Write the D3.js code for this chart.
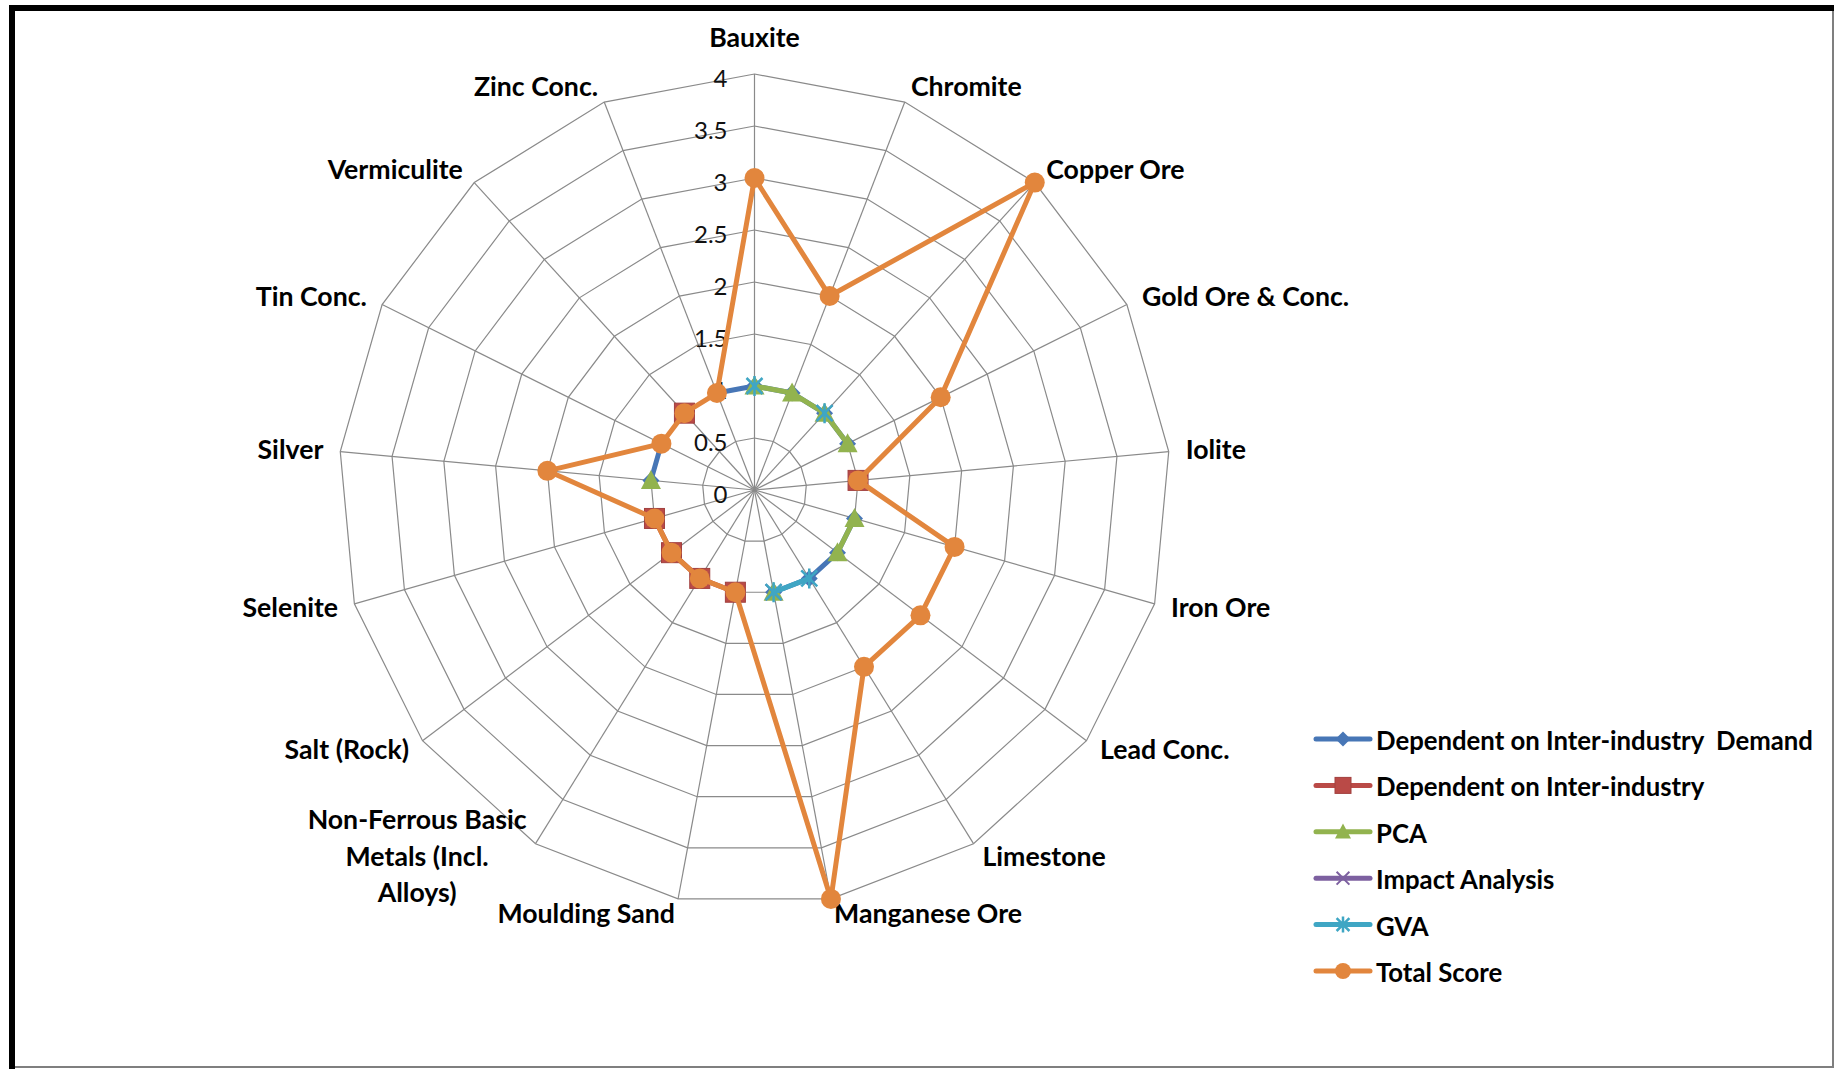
<!DOCTYPE html>
<html>
<head>
<meta charset="utf-8">
<script src="https://cdn.jsdelivr.net/npm/d3@7"></script>
<style>
  html, body { margin: 0; padding: 0; background: #fff; }
  svg { display: block; }
</style>
</head>
<body>
<svg id="chart" width="1836" height="1069"></svg>
<script>
// ---------------- DATA ----------------
const categories = [
  "Bauxite", "Chromite", "Copper Ore", "Gold Ore & Conc.", "Iolite", "Iron Ore",
  "Lead Conc.", "Limestone", "Manganese Ore", "Moulding Sand",
  "Non-Ferrous Basic Metals (Incl. Alloys)", "Salt (Rock)", "Selenite", "Silver",
  "Tin Conc.", "Vermiculite", "Zinc Conc."
];
const seriesNames = [
  "Dependent on Inter-industry  Demand",
  "Dependent on Inter-industry",
  "PCA",
  "Impact Analysis",
  "GVA",
  "Total Score"
];
// null = blank cell (gap in the line)
const demandValues   = [1, 1, 1, 1, null, 1, 1, 1, 1, null, null, null, null, 1, 1, null, 1];
const interValues    = [null, null, null, null, 1, null, null, null, null, 1, 1, 1, 1, null, null, 1, null];
const pcaValues      = [1, 1, 1, 1, null, 1, 1, null, 1, null, null, null, null, 1, null, null, null];
const impactValues   = [null, null, 1, null, null, null, null, null, 1, null, null, null, null, null, null, null, null];
const gvaValues      = [1, null, 1, null, null, null, null, 1, 1, null, null, null, null, null, null, null, null];
const totalValues    = [3, 2, 4, 2, 1, 2, 2, 2, 4, 1, 1, 1, 1, 2, 1, 1, 1];
const tickValues     = [0, 0.5, 1, 1.5, 2, 2.5, 3, 3.5, 4];
// wrapped label lines for the long category
const wrappedLabels = { "Non-Ferrous Basic Metals (Incl. Alloys)": ["Non-Ferrous Basic", "Metals (Incl.", "Alloys)"] };

// ---------------- STYLE ----------------
const seriesValues = [demandValues, interValues, pcaValues, impactValues, gvaValues, totalValues];
const seriesColors = ["#4776B6", "#BA4A47", "#92B34F", "#7D60A0", "#3FA6C4", "#E2863D"];
const seriesMarkers = ["diamond", "square", "triangle", "cross", "asterisk", "circle"];

const W = 1836, H = 1069;
const cx = 754.5, cy = 490, R = 416;
const FONT = "Lato, 'Open Sans', 'Noto Sans', sans-serif";

const svg = d3.select("#chart");

// border (picture frame)
svg.append("rect").attr("x", 12).attr("y", 8).attr("width", 1821).attr("height", 1059)
  .attr("fill", "#fff").attr("stroke", "#7f7f7f").attr("stroke-width", 2);
svg.append("line").attr("x1", 9).attr("x2", 1834).attr("y1", 8).attr("y2", 8)
  .attr("stroke", "#000").attr("stroke-width", 6);
svg.append("line").attr("x1", 12).attr("x2", 12).attr("y1", 5).attr("y2", 1069)
  .attr("stroke", "#000").attr("stroke-width", 6);

// font fitting helper
function fitSize(text, weight, target) {
  const t = svg.append("text").attr("font-family", FONT).attr("font-weight", weight)
    .attr("font-size", 100).style("white-space", "pre").text(text);
  const w = t.node().getComputedTextLength();
  t.remove();
  return 100 * target / w;
}
const labelSize = (fitSize("Copper Ore", "bold", 138) + fitSize("Bauxite", "bold", 90) + fitSize("Manganese Ore", "bold", 190)) / 3;
const legendSize = (fitSize("Total Score", "bold", 126) + fitSize("Dependent on Inter-industry  Demand", "bold", 438)) / 2;
const tickSize = 24;

const n = categories.length;
const r = d3.scaleLinear().domain([0, 4]).range([0, R]);
const angle = d3.scaleLinear().domain([0, n]).range([0, 2 * Math.PI]);

const g = svg.append("g").attr("transform", `translate(${cx},${cy})`);

// grid rings
const ringLine = d3.lineRadial().angle((d, i) => angle(i)).radius(d => r(d)).curve(d3.curveLinearClosed);
tickValues.filter(v => v > 0).forEach(v => {
  g.append("path").attr("d", ringLine(categories.map(() => v)))
    .attr("fill", "none").attr("stroke", "#8a8a8a").attr("stroke-width", 1.2);
});
// spokes
categories.forEach((c, i) => {
  const a = angle(i);
  g.append("line").attr("x1", 0).attr("y1", 0)
    .attr("x2", r(4) * Math.sin(a)).attr("y2", -r(4) * Math.cos(a))
    .attr("stroke", "#8a8a8a").attr("stroke-width", 1.2);
});

// tick labels
g.selectAll("text.tick").data(tickValues).enter().append("text")
  .attr("class", "tick")
  .attr("x", -27).attr("y", d => -r(d) + 3)
  .attr("text-anchor", "end").attr("dominant-baseline", "central")
  .attr("font-family", FONT).attr("font-size", tickSize).attr("fill", "#111")
  .text(d => d3.format("~g")(d));

// category labels
categories.forEach((c, i) => {
  const a = angle(i);
  const dx = Math.sin(a), dy = -Math.cos(a);
  const vx = r(4) * dx, vy = r(4) * dy;
  let anchor = "middle";
  if (dx > 0.05) anchor = "start"; else if (dx < -0.05) anchor = "end";
  const x = vx + dx * 17;
  const y = Math.abs(dx) < 0.05 && dy < 0 ? vy - 37 : vy + dy * 16 - 1.5;
  const lines = wrappedLabels[c];
  if (lines) {
    const t = g.append("text").attr("font-family", FONT).attr("font-weight", "bold")
      .attr("font-size", labelSize).attr("fill", "#000").attr("text-anchor", "middle");
    const tmp = g.append("text").attr("font-family", FONT).attr("font-weight", "bold").attr("font-size", labelSize);
    let maxW = 0;
    lines.forEach(l => { tmp.text(l); maxW = Math.max(maxW, tmp.node().getComputedTextLength()); });
    tmp.remove();
    const bx = anchor === "end" ? x - maxW / 2 : anchor === "start" ? x + maxW / 2 : x;
    const lh = 36.5;
    lines.forEach((l, k) => {
      t.append("tspan").attr("x", bx).attr("y", y + (k - (lines.length - 1) / 2) * lh)
        .attr("dominant-baseline", "central").text(l);
    });
  } else {
    g.append("text").attr("x", x).attr("y", y)
      .attr("text-anchor", anchor).attr("dominant-baseline", "central")
      .attr("font-family", FONT).attr("font-weight", "bold").attr("font-size", labelSize)
      .attr("fill", "#000").text(c);
  }
});

// marker drawer
function drawMarker(sel, type, color, s) {
  const h = s / 2;
  if (type === "circle") {
    sel.append("circle").attr("r", h).attr("fill", color);
  } else if (type === "square") {
    sel.append("rect").attr("x", -h).attr("y", -h).attr("width", s).attr("height", s)
      .attr("fill", color).attr("stroke", d3.color(color).darker(0.4)).attr("stroke-width", 1);
  } else if (type === "diamond") {
    sel.append("path").attr("d", `M0,${-h}L${h},0L0,${h}L${-h},0Z`).attr("fill", color);
  } else if (type === "triangle") {
    sel.append("path").attr("d", `M0,${-h * 1.05}L${h},${h * 0.85}L${-h},${h * 0.85}Z`).attr("fill", color);
  } else if (type === "cross") {
    const k = h * 0.8;
    sel.append("path").attr("d", `M${-k},${-k}L${k},${k}M${-k},${k}L${k},${-k}`)
      .attr("stroke", color).attr("stroke-width", 2).attr("fill", "none");
  } else if (type === "asterisk") {
    const k = h * 0.8;
    sel.append("path").attr("d", `M${-k},${-k}L${k},${k}M${-k},${k}L${k},${-k}M0,${-h}L0,${h}`)
      .attr("stroke", color).attr("stroke-width", 2.5).attr("fill", "none");
  }
}

// series
const radial = d3.lineRadial()
  .defined(d => d.v != null)
  .angle(d => angle(d.i))
  .radius(d => r(d.v));

seriesValues.forEach((vals, si) => {
  const color = seriesColors[si];
  const pts = vals.map((v, i) => ({ v, i }));
  const closed = pts.concat([{ v: vals[0], i: n }]);
  const sg = g.append("g");
  sg.append("path").attr("d", radial(closed))
    .attr("fill", "none").attr("stroke", color).attr("stroke-width", 5)
    .attr("stroke-linejoin", "round").attr("stroke-linecap", "round");
  pts.filter(d => d.v != null).forEach(d => {
    const a = angle(d.i);
    const m = sg.append("g").attr("transform", `translate(${r(d.v) * Math.sin(a)},${-r(d.v) * Math.cos(a)})`);
    drawMarker(m, seriesMarkers[si], color, si === 0 ? 17 : 20);
  });
});

// legend
const lg = svg.append("g");
const legX = 1316, legY = 739, legStep = 46.4;
seriesNames.forEach((name, si) => {
  const y = legY + si * legStep;
  const color = seriesColors[si];
  lg.append("line").attr("x1", legX).attr("x2", legX + 54).attr("y1", y).attr("y2", y)
    .attr("stroke", color).attr("stroke-width", 5).attr("stroke-linecap", "round");
  const m = lg.append("g").attr("transform", `translate(${legX + 27},${y})`);
  drawMarker(m, seriesMarkers[si], color, si === 0 ? 15 : 16);
  lg.append("text").attr("x", legX + 60).attr("y", y + 1)
    .attr("dominant-baseline", "central")
    .attr("font-family", FONT).attr("font-weight", "bold").attr("font-size", legendSize)
    .attr("fill", "#000").style("white-space", "pre").text(name);
});
</script>
</body>
</html>
